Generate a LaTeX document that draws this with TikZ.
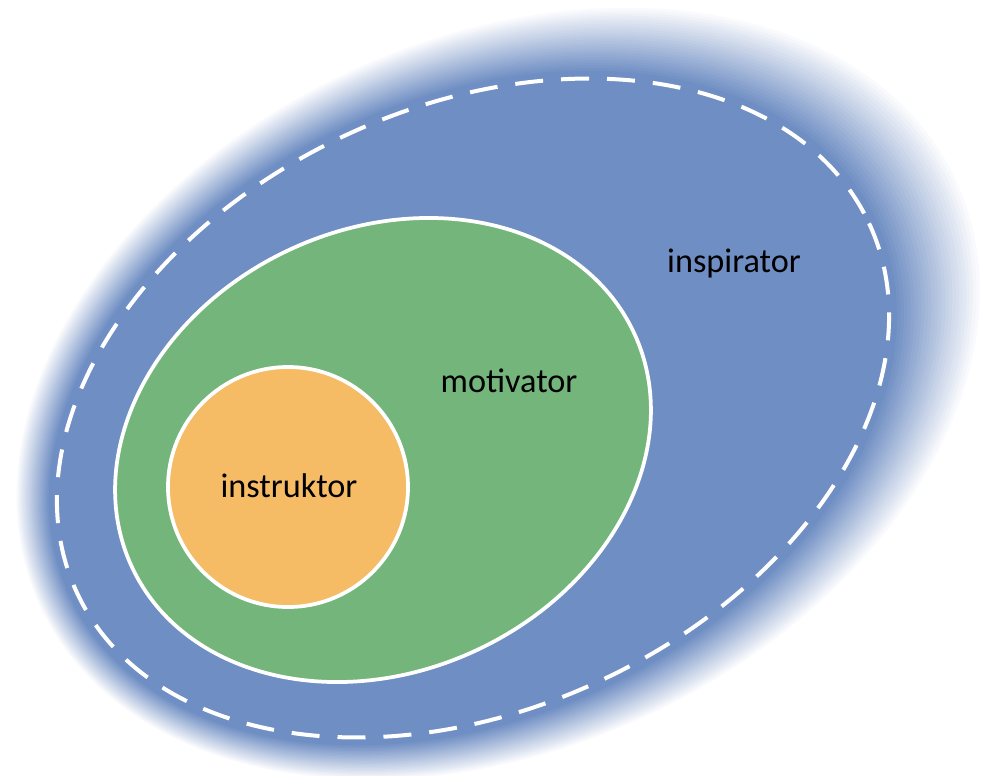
\documentclass[tikz,border=0pt]{standalone}
\usepackage{fontspec}
\setmainfont{Carlito}
\usepackage{tikz}
\usetikzlibrary{positioning}

\definecolor{inspblue}{RGB}{111,142,195}
\definecolor{motgreen}{RGB}{115,181,122}
\definecolor{instorange}{RGB}{245,187,101}

\begin{document}
\begin{tikzpicture}[
    x=0.02cm, y=-0.02cm,   % one unit per pixel, y going down
    ]
% -------------------------------------------------
\tikzset{
  word/.style={font=\fontsize{19.5}{23}\selectfont, text=black, anchor=base, inner sep=0pt},
  rim/.style={draw=white, line width=0.075cm},
  outline/.style={draw=white, line width=0.08cm, dash pattern=on 0.56cm off 0.36cm}
}
% -------------------------------------------------
\useasboundingbox (0,0) rectangle (981,775);

\coordinate (ctr) at (473,408);
\coordinate (mid) at (383,450);
\coordinate (core) at (288,487);

% soft blue halo, outermost ring first
\foreach \i in {24,...,0}{
  \pgfmathsetmacro\tone{100-4*\i}
  \begin{scope}[shift={(473+1.05*\i,408-0.6*\i)}, rotate=25]
    \fill[inspblue!\tone!white] (0,0) ellipse [x radius=445+2.5*\i, y radius=309+1.9*\i];
  \end{scope}
}

\begin{scope}[shift={(ctr)}, rotate=25]
  \draw[outline] (0,0) ellipse [x radius=437, y radius=301];
\end{scope}

\begin{scope}[shift={(mid)}, rotate=25]
  \filldraw[rim, fill=motgreen] (0,0) ellipse [x radius=277, y radius=221];
\end{scope}

\filldraw[rim, fill=instorange] (core) circle [radius=120];

% -------------------------------------------------
% Labels
\node[word] (insp) at (734,272) {inspirator};
\node[word] (moti) at (509,392) {motivator};
\node[word] (instr) at (289,497) {instruktor};

\end{tikzpicture}
\end{document}
